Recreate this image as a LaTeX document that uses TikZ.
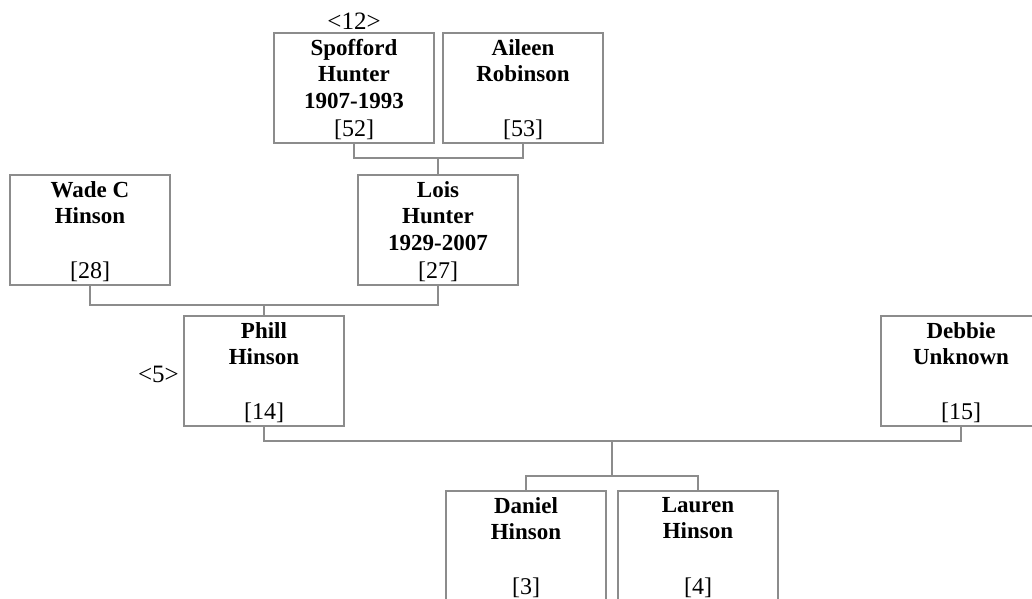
\documentclass[tikz,border=0pt]{standalone}
\usepackage{fontspec}
\setmainfont{Liberation Serif}
\definecolor{linegray}{RGB}{140,140,140}
\tikzset{
  pbox/.style={draw=linegray, line width=1.2pt, minimum width=160pt, minimum height=110pt, inner sep=0pt, fill=white},
  pname/.style={align=center, inner sep=0pt, font=\fontsize{23}{26.5}\selectfont\bfseries},
  pnum/.style={inner sep=0pt, font=\fontsize{24}{26.5}\selectfont},
  conn/.style={draw=linegray, line width=1.2pt},
  tag/.style={inner sep=0pt, font=\fontsize{25}{26.5}\selectfont}
}
\newcommand\pbox[5]{%
  \node[pbox] (#1) at (#2+80,#3+55) {};
  \node[pname, anchor=north] (#1n) at (#2+80,#3+6) {#4};
  \node[pnum, anchor=base] (#1m) at (#2+80,#3+103) {#5};
}
\begin{document}
\begin{tikzpicture}[x=1pt,y=-1pt]
\useasboundingbox (0,0) rectangle (1032,598);
\clip (0,0) rectangle (1032,598);
\pbox{S}{274}{33}{Spofford\\Hunter\\1907-1993}{[52]}
\pbox{A}{443}{33}{Aileen\\Robinson}{[53]}
\pbox{W}{10}{175}{Wade C\\Hinson}{[28]}
\pbox{L}{358}{175}{Lois\\Hunter\\1929-2007}{[27]}
\pbox{P}{184}{316}{Phill\\Hinson}{[14]}
\pbox{D}{881}{316}{Debbie\\Unknown}{[15]}
\pbox{Da}{446}{491}{Daniel\\Hinson}{[3]}
\pbox{La}{618}{491}{Lauren\\Hinson}{[4]}
\node[tag, anchor=base] (t12) at (354,29) {<12>};
\node[tag, anchor=base east] (t5) at (179,382) {<5>};
\coordinate (SA) at (438,158);
\coordinate (WL) at (264,305);
\coordinate (PD) at (612,441);
\coordinate (kids) at (612,476);
\draw[conn] (S.south) |- (SA) -| (A.south);
\draw[conn] (SA) -- (L.north);
\draw[conn] (W.south) |- (WL) -| (L.south);
\draw[conn] (WL) -- (P.north);
\draw[conn] (P.south) |- (PD) -| (D.south);
\draw[conn] (PD) -- (kids);
\draw[conn] (Da.north) |- (kids) -| (La.north);
\end{tikzpicture}
\end{document}
